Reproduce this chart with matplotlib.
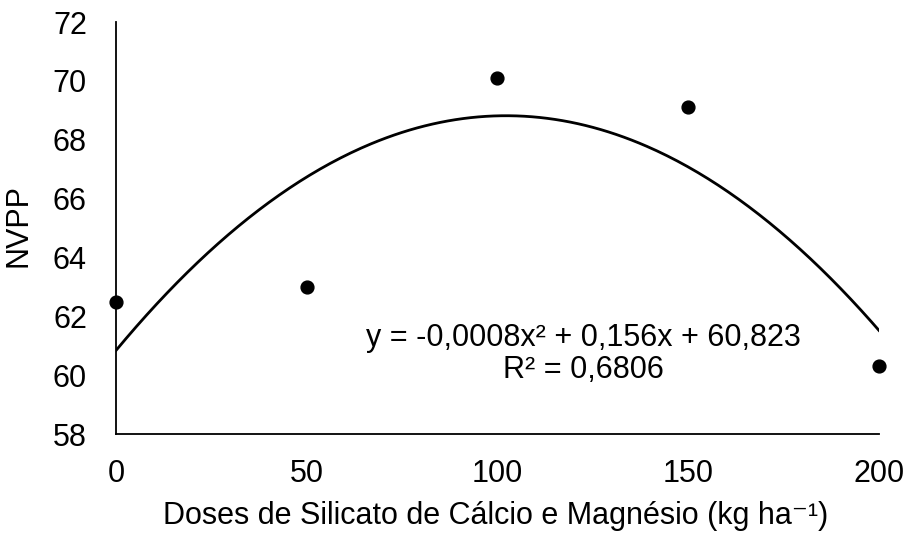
import numpy as np
import matplotlib
matplotlib.use("Agg")
import matplotlib.pyplot as plt

plt.rcParams['font.family'] = ['Liberation Sans', 'DejaVu Sans']

# doses (kg/ha) and NVPP
doses = [0, 50, 100, 150, 200]
nvpp = [62.5, 63.0, 70.1, 69.1, 60.3]
yticks = [58, 60, 62, 64, 66, 68, 70, 72]
xticks = [0, 50, 100, 150, 200]

fig = plt.figure(figsize=(9.08, 5.38), dpi=100)
ax = fig.add_axes([0.1278, 0.193, 0.8402, 0.766])

# quadratic trend line
coef = np.polyfit(doses, nvpp, 2)
xs = np.linspace(0, 200, 300)
ax.plot(xs, np.polyval(coef, xs), color='black', lw=2.0, zorder=2)
ax.scatter(doses, nvpp, s=85, color='black', zorder=3, clip_on=False)

ax.text(122.5, 60.72, "y = -0,0008x² + 0,156x + 60,823\nR² = 0,6806",
        ha='center', va='center', fontsize=22, linespacing=1.1)

ax.set_xlim(0, 200)
ax.set_ylim(58, 72)
ax.set_xticks(xticks)
ax.set_yticks(yticks)
ax.tick_params(length=0, labelsize=22)
ax.tick_params(axis='y', pad=21)
ax.tick_params(axis='x', pad=18)
for s in ['top', 'right']:
    ax.spines[s].set_visible(False)
for s in ['left', 'bottom']:
    ax.spines[s].set_linewidth(1.3)

ax.set_ylabel("NVPP", fontsize=22)
ax.set_xlabel("Doses de Silicato de Cálcio e Magnésio (kg ha⁻¹)", fontsize=22)
ax.yaxis.set_label_coords(-0.108, 0.505)
ax.xaxis.set_label_coords(0.497, -0.163)

fig.savefig("out.png", dpi=100)
